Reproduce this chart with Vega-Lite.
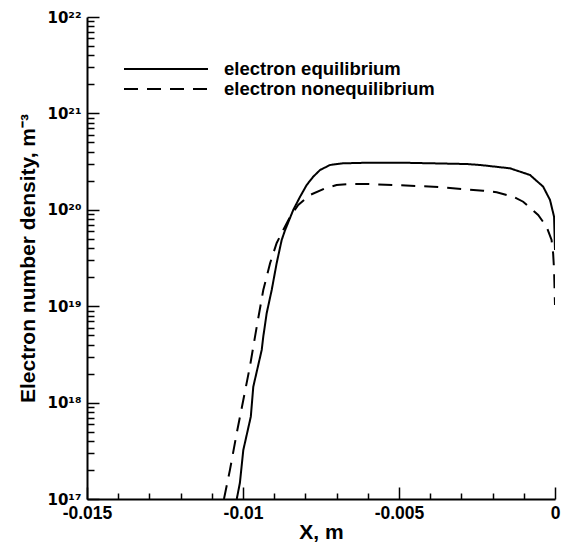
{
  "$schema": "https://vega.github.io/schema/vega-lite/v6.json",
  "width": 468,
  "height": 482,
  "autosize": {"type": "none"},
  "padding": {"left": 87, "top": 17, "right": 6, "bottom": 47},
  "background": "white",
  "config": {
    "view": {"stroke": null},
    "font": "Liberation Sans",
    "axis": {"grid": false, "domainColor": "black", "domainWidth": 2, "tickColor": "black", "tickWidth": 1.5, "labelColor": "black", "titleColor": "black", "labelFont": "Liberation Sans", "titleFont": "Liberation Sans", "labelFontWeight": "bold", "titleFontWeight": "bold"}
  },
  "data": {"values": [
    {"x": -0.0102, "y": 1.0e17, "series": "electron equilibrium"},
    {"x": -0.0101, "y": 1.466e17, "series": "electron equilibrium"},
    {"x": -0.00999, "y": 3.221e17, "series": "electron equilibrium"},
    {"x": -0.00975, "y": 7.145e17, "series": "electron equilibrium"},
    {"x": -0.00967, "y": 1.462e18, "series": "electron equilibrium"},
    {"x": -0.0094, "y": 3.516e18, "series": "electron equilibrium"},
    {"x": -0.00935, "y": 4.831e18, "series": "electron equilibrium"},
    {"x": -0.00924, "y": 8.492e18, "series": "electron equilibrium"},
    {"x": -0.00908, "y": 1.472e19, "series": "electron equilibrium"},
    {"x": -0.00892, "y": 2.805e19, "series": "electron equilibrium"},
    {"x": -0.00876, "y": 4.864e19, "series": "electron equilibrium"},
    {"x": -0.00865, "y": 6.17e19, "series": "electron equilibrium"},
    {"x": -0.00839, "y": 9.95e19, "series": "electron equilibrium"},
    {"x": -0.00817, "y": 1.368e20, "series": "electron equilibrium"},
    {"x": -0.00796, "y": 1.807e20, "series": "electron equilibrium"},
    {"x": -0.00775, "y": 2.203e20, "series": "electron equilibrium"},
    {"x": -0.00753, "y": 2.588e20, "series": "electron equilibrium"},
    {"x": -0.00721, "y": 2.917e20, "series": "electron equilibrium"},
    {"x": -0.00679, "y": 3.035e20, "series": "electron equilibrium"},
    {"x": -0.00593, "y": 3.083e20, "series": "electron equilibrium"},
    {"x": -0.00497, "y": 3.083e20, "series": "electron equilibrium"},
    {"x": -0.00283, "y": 2.985e20, "series": "electron equilibrium"},
    {"x": -0.0024, "y": 2.917e20, "series": "electron equilibrium"},
    {"x": -0.00144, "y": 2.692e20, "series": "electron equilibrium"},
    {"x": -0.0008, "y": 2.296e20, "series": "electron equilibrium"},
    {"x": -0.00038, "y": 1.738e20, "series": "electron equilibrium"},
    {"x": -0.00016, "y": 1.265e20, "series": "electron equilibrium"},
    {"x": -0.00003, "y": 8.47e19, "series": "electron equilibrium"},
    {"x": 0, "y": 3.83e19, "series": "electron equilibrium"},
    {"x": -0.01061, "y": 1.0e17, "series": "electron nonequilibrium"},
    {"x": -0.01042, "y": 1.995e17, "series": "electron nonequilibrium"},
    {"x": -0.0102, "y": 4.842e17, "series": "electron nonequilibrium"},
    {"x": -0.00999, "y": 1.064e18, "series": "electron nonequilibrium"},
    {"x": -0.00978, "y": 2.355e18, "series": "electron nonequilibrium"},
    {"x": -0.00956, "y": 6.124e18, "series": "electron nonequilibrium"},
    {"x": -0.00935, "y": 1.472e19, "series": "electron nonequilibrium"},
    {"x": -0.00913, "y": 2.805e19, "series": "electron nonequilibrium"},
    {"x": -0.00892, "y": 4.529e19, "series": "electron nonequilibrium"},
    {"x": -0.00871, "y": 6.166e19, "series": "electron nonequilibrium"},
    {"x": -0.00849, "y": 8.472e19, "series": "electron nonequilibrium"},
    {"x": -0.00823, "y": 1.122e20, "series": "electron nonequilibrium"},
    {"x": -0.00785, "y": 1.426e20, "series": "electron nonequilibrium"},
    {"x": -0.00737, "y": 1.671e20, "series": "electron nonequilibrium"},
    {"x": -0.007, "y": 1.807e20, "series": "electron nonequilibrium"},
    {"x": -0.00652, "y": 1.854e20, "series": "electron nonequilibrium"},
    {"x": -0.00604, "y": 1.854e20, "series": "electron nonequilibrium"},
    {"x": -0.0039, "y": 1.738e20, "series": "electron nonequilibrium"},
    {"x": -0.0023, "y": 1.578e20, "series": "electron nonequilibrium"},
    {"x": -0.00187, "y": 1.52e20, "series": "electron nonequilibrium"},
    {"x": -0.00134, "y": 1.368e20, "series": "electron nonequilibrium"},
    {"x": -0.00102, "y": 1.213e20, "series": "electron nonequilibrium"},
    {"x": -0.00054, "y": 8.83e19, "series": "electron nonequilibrium"},
    {"x": -0.00027, "y": 6.68e19, "series": "electron nonequilibrium"},
    {"x": -0.00011, "y": 4.86e19, "series": "electron nonequilibrium"},
    {"x": -0.00006, "y": 3.54e19, "series": "electron nonequilibrium"},
    {"x": -0.00003, "y": 2.38e19, "series": "electron nonequilibrium"},
    {"x": 0, "y": 1.03e19, "series": "electron nonequilibrium"}
  ]},
  "mark": {"type": "line", "color": "black", "strokeWidth": 2, "clip": true},
  "encoding": {
    "x": {
      "field": "x", "type": "quantitative",
      "scale": {"domain": [-0.015, 0], "nice": false, "zero": false},
      "axis": {
        "title": "X, m", "titleFontSize": 21, "titlePadding": -6,
        "labelFontSize": 17.5, "labelPadding": 17, "labelFlush": false, "labelOverlap": false,
        "values": [-0.015, -0.014, -0.013, -0.012, -0.011, -0.01, -0.009, -0.008, -0.007, -0.006, -0.005, -0.004, -0.003, -0.002, -0.001, 0],
        "labelExpr": "datum.value == -0.015 ? '-0.015' : datum.value == -0.01 ? '-0.01' : datum.value == -0.005 ? '-0.005' : datum.value == 0 ? '0' : ''",
        "tickSize": {"condition": {"test": "abs(datum.value*200 - round(datum.value*200)) < 1e-6", "value": -12}, "value": -6}
      }
    },
    "y": {
      "field": "y", "type": "quantitative",
      "scale": {"type": "log", "domain": [1e17, 1e22], "nice": false},
      "axis": {
        "title": "Electron number density, m⁻³", "titleFontSize": 21, "titlePadding": 8,
        "labelFont": "DejaVu Sans", "labelFontSize": 15, "labelPadding": 18, "labelFlush": false, "labelOverlap": false,
        "values": [1e17, 2e17, 3e17, 4e17, 5e17, 6e17, 7e17, 8e17, 9e17, 1e18, 2e18, 3e18, 4e18, 5e18, 6e18, 7e18, 8e18, 9e18, 1e19, 2e19, 3e19, 4e19, 5e19, 6e19, 7e19, 8e19, 9e19, 1e20, 2e20, 3e20, 4e20, 5e20, 6e20, 7e20, 8e20, 9e20, 1e21, 2e21, 3e21, 4e21, 5e21, 6e21, 7e21, 8e21, 9e21, 1e22],
        "labelExpr": "datum.value == 1e17 ? '10¹⁷' : datum.value == 1e18 ? '10¹⁸' : datum.value == 1e19 ? '10¹⁹' : datum.value == 1e20 ? '10²⁰' : datum.value == 1e21 ? '10²¹' : datum.value == 1e22 ? '10²²' : ''",
        "tickSize": {"condition": {"test": "abs(log(datum.value)/LN10 - round(log(datum.value)/LN10)) < 1e-9", "value": -12}, "value": -7}
      }
    },
    "strokeDash": {
      "field": "series", "type": "nominal",
      "scale": {"domain": ["electron equilibrium", "electron nonequilibrium"], "range": [[1, 0], [14, 9]]},
      "legend": {
        "title": null, "orient": "none", "legendX": 36, "legendY": 42,
        "symbolType": "stroke", "symbolSize": 7056, "symbolStrokeWidth": 2, "symbolStrokeColor": "black",
        "labelFontSize": 18.5, "labelFontWeight": "bold", "labelColor": "black", "labelOffset": 15, "labelLimit": 400,
        "clipHeight": 20, "rowPadding": 0
      }
    }
  }
}
